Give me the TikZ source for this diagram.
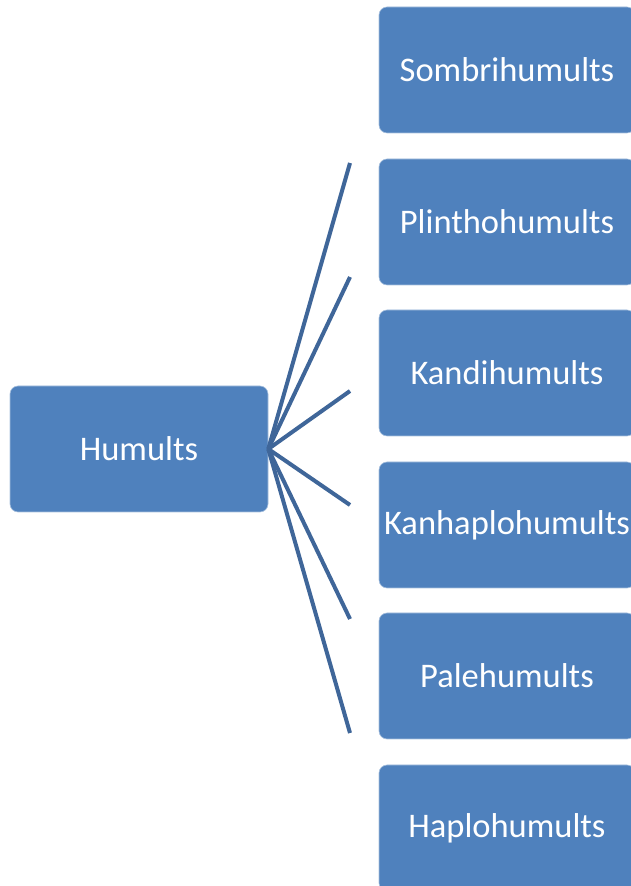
\documentclass[tikz,border=0pt]{standalone}
\usepackage{fontspec}
\setmainfont{Carlito}
\begin{document}
\begin{tikzpicture}[x=1pt,y=1pt,
  box/.style={draw=white!50!boxblue, line width=0.6pt, fill=boxblue, rounded corners=8pt,
    minimum height=126pt, text=white, font=\fontsize{34.5}{40}\selectfont, inner sep=0pt},
  conn/.style={draw=lineblue, line width=4pt}]
\definecolor{boxblue}{HTML}{4F81BD}
\definecolor{lineblue}{HTML}{3F6699}
\useasboundingbox (0,0) rectangle (631,886);
\clip (0,0) rectangle (631,886);
\node[box, minimum width=258pt] (hum) at (139,437) {Humults};
\foreach \n/\t/\y in {a/Sombrihumults/816, b/Plinthohumults/664, c/Kandihumults/513, d/Kanhaplohumults/361, e/Palehumults/210, f/Haplohumults/58}{
  \node[box, minimum width=256pt] (\n) at (507,\y) {\t};
}
\foreach \i/\y in {1/723,2/609,3/495,4/381,5/267,6/153}{
  \coordinate (e\i) at (350,\y);
  \draw[conn] (hum.east) -- (e\i);
}
\end{tikzpicture}
\end{document}
